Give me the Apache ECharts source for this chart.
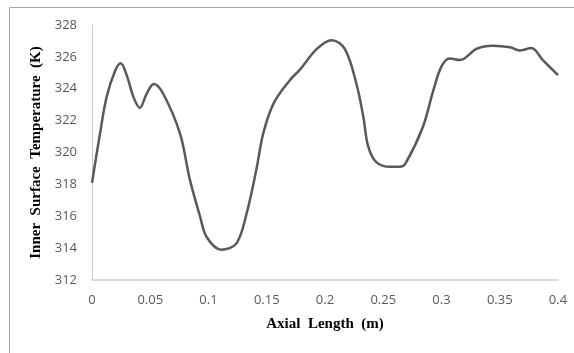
<!DOCTYPE html>
<html>
<head>
<meta charset="utf-8">
<script src="https://cdn.jsdelivr.net/npm/echarts@6/dist/echarts.min.js"></script>
<style>
  html, body { margin: 0; padding: 0; background: #fff; }
  #chart { width: 574px; height: 353px; }
</style>
</head>
<body>
<div id="chart"></div>
<script>
// axial position (m) and inner surface temperature (K)
var axialLength = [0, 0.0069, 0.0126, 0.0197, 0.0246, 0.030, 0.0355, 0.041, 0.047, 0.053,
  0.061, 0.0755, 0.084, 0.0927, 0.0984, 0.111, 0.124, 0.1328, 0.141, 0.147,
  0.156, 0.170, 0.1785, 0.193, 0.2057, 0.217, 0.227, 0.233, 0.237, 0.244,
  0.256, 0.264, 0.269, 0.284, 0.293, 0.300, 0.307, 0.316, 0.330, 0.344,
  0.359, 0.367, 0.377, 0.387, 0.400];
var temperature = [318.1, 321.2, 323.5, 325.1, 325.6, 324.8, 323.5, 322.8, 323.7, 324.3,
  323.7, 321.2, 318.3, 316.0, 314.7, 313.9, 314.3, 316.2, 318.9, 321.2,
  323.1, 324.55, 325.2, 326.5, 327.05, 326.5, 324.3, 322.2, 320.4, 319.4,
  319.1, 319.1, 319.3, 321.6, 323.9, 325.4, 325.9, 325.8, 326.5, 326.7,
  326.6, 326.4, 326.55, 325.8, 324.85];
var xTicks = [0, 0.05, 0.1, 0.15, 0.2, 0.25, 0.3, 0.35, 0.4];

var chart = echarts.init(document.getElementById('chart'));

var points = axialLength.map(function (x, i) { return [x, temperature[i]]; });

var option = {
  animation: false,
  backgroundColor: '#fff',
  graphic: [{
    type: 'rect',
    shape: { x: 9.5, y: 7.5, width: 700, height: 500 },
    style: { fill: 'none', stroke: '#a6a6a6', lineWidth: 1 },
    silent: true
  }],
  grid: { left: 92, right: 16, top: 25, bottom: 73 },
  xAxis: {
    type: 'value',
    min: 0,
    max: 0.4,
    interval: 0.05,
    name: 'Axial  Length  (m)',
    nameLocation: 'middle',
    nameGap: 37,
    nameTextStyle: { fontFamily: 'Liberation Serif', fontWeight: 'bold', fontSize: 15, color: '#000' },
    axisLine: { lineStyle: { color: '#d0d0d0', width: 1.5 } },
    axisTick: { show: false },
    splitLine: { show: false },
    axisLabel: {
      margin: 14,
      fontFamily: 'Open Sans',
      fontSize: 13,
      color: '#595959',
      formatter: function (v) {
        var t = xTicks.find(function (k) { return Math.abs(k - v) < 1e-9; });
        return t === undefined ? '' : String(t);
      }
    }
  },
  yAxis: {
    type: 'value',
    min: 312,
    max: 328,
    interval: 2,
    name: 'Inner  Surface  Temperature  (K)',
    nameLocation: 'middle',
    nameGap: 38,
    nameTextStyle: { fontFamily: 'Liberation Serif', fontWeight: 'bold', fontSize: 15, color: '#000' },
    axisLine: { show: true, lineStyle: { color: '#c8c8c8', width: 1 } },
    axisTick: { show: false },
    splitLine: { show: false },
    axisLabel: { margin: 15, fontFamily: 'Open Sans', fontSize: 13, color: '#595959' }
  },
  series: [{
    type: 'line',
    data: points,
    smooth: 0.35,
    showSymbol: false,
    lineStyle: { color: '#595959', width: 2.5 }
  }]
};

chart.setOption(option);
</script>
</body>
</html>
